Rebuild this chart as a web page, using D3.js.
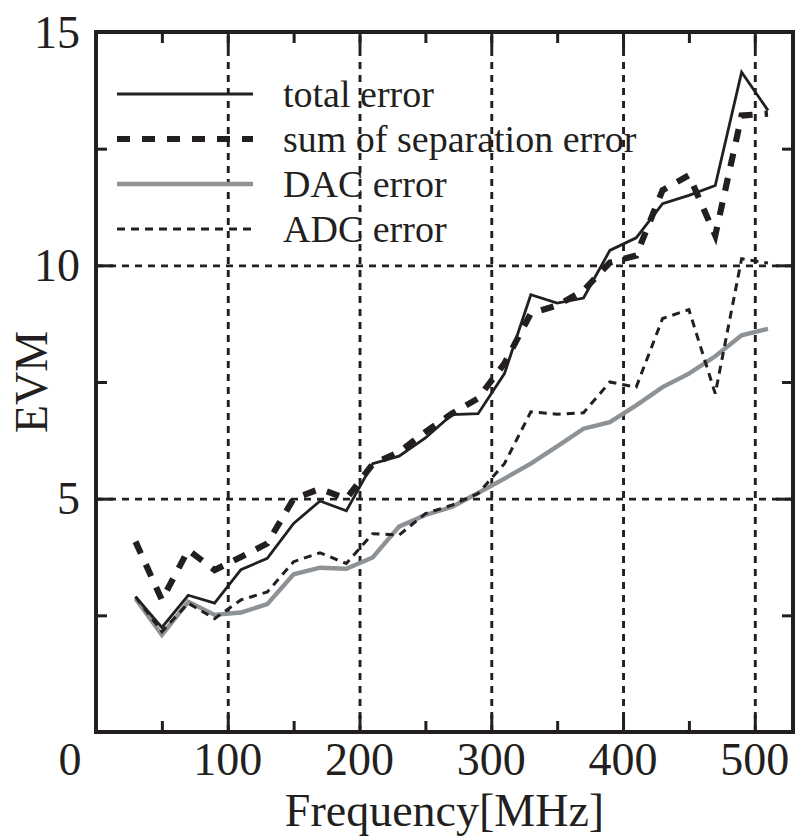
<!DOCTYPE html>
<html>
<head>
<meta charset="utf-8">
<script src="https://d3js.org/d3.v7.min.js"></script>
<style>
body { margin: 0; background: #fff; }
text { font-family: "Liberation Serif", "Times New Roman", serif; fill: #231f20; }
</style>
</head>
<body>
<svg id="chart" width="795" height="838"></svg>

<script>
// frequency points [MHz]
var freq = [30, 50, 70, 90, 110, 130, 150, 170, 190, 210, 230, 250, 270, 290, 310, 330, 350, 370, 390, 410, 430, 450, 470, 490, 510];

var totalError = [2.90, 2.24, 2.93, 2.76, 3.48, 3.72, 4.47, 4.95, 4.74, 5.75, 5.91, 6.30, 6.80, 6.82, 7.68, 9.37, 9.19, 9.30, 10.32, 10.59, 11.32, 11.50, 11.71, 14.14, 13.32];
var sumError   = [4.08, 2.83, 3.90, 3.47, 3.75, 4.04, 5.00, 5.21, 5.00, 5.74, 6.00, 6.43, 6.82, 7.15, 7.90, 8.97, 9.14, 9.46, 10.06, 10.21, 11.61, 11.93, 10.64, 13.21, 13.25];
var dacError   = [2.86, 2.08, 2.79, 2.51, 2.56, 2.74, 3.38, 3.52, 3.50, 3.74, 4.40, 4.65, 4.82, 5.12, 5.43, 5.75, 6.12, 6.50, 6.64, 7.00, 7.39, 7.68, 8.05, 8.50, 8.64];
var adcError   = [2.90, 2.15, 2.76, 2.43, 2.83, 3.00, 3.65, 3.84, 3.61, 4.25, 4.22, 4.68, 4.86, 5.11, 5.75, 6.86, 6.81, 6.84, 7.50, 7.39, 8.86, 9.05, 7.25, 10.14, 10.05];

var seriesNames = ["total error", "sum of separation error", "DAC error", "ADC error"];
var xTicks = [0, 100, 200, 300, 400, 500];
var xMinor = [50, 150, 250, 350, 450];
var yTicks = [5, 10, 15];
var yMinor = [2.5, 7.5, 12.5];

var ink = "#231f20";
var grey = "#8d9296";

var marginLeft = 96
var marginTop = 32
var width = 697
var height = 700

var svg = d3.select("#chart");
var g = svg.append("g").attr("transform", "translate(" + marginLeft + "," + marginTop + ")");

var x = d3.scaleLinear().domain([0, 529]).range([0, width]);
var y = d3.scaleLinear().domain([0, 15]).range([height, 0]);

// dashed grid
var gridX = g.append("g")
	.attr("transform", "translate(0," + height + ")")
	.call(d3.axisBottom(x).tickValues(xTicks.slice(1)).tickSize(-height).tickFormat(""));
var gridY = g.append("g")
	.call(d3.axisLeft(y).tickValues([5, 10]).tickSize(-width).tickFormat(""));
[gridX, gridY].forEach(function(a) {
	a.select(".domain").remove();
	a.selectAll("line").attr("stroke", ink).attr("stroke-width", 2.9).attr("stroke-dasharray", "7,6");
});

// series
var styles = [
	{ data: totalError, color: ink,  w: 2.8, dash: null },
	{ data: sumError,   color: ink,  w: 6.2, dash: "13,12" },
	{ data: dacError,   color: grey, w: 4.4, dash: null },
	{ data: adcError,   color: ink,  w: 3,   dash: "8,6" }
];
var line = d3.line().x(function(d, i) { return x(freq[i]); }).y(function(d) { return y(d); });

// draw grey DAC first so black lines sit on top of it
[2, 3, 1, 0].forEach(function(k) {
	var s = styles[k];
	g.append("path")
		.datum(s.data)
		.attr("fill", "none")
		.attr("stroke", s.color)
		.attr("stroke-width", s.w)
		.attr("stroke-dasharray", s.dash)
		.attr("stroke-linejoin", "miter")
		.attr("d", line);
});

// inward ticks on all four sides
function styleAxis(a) {
	a.select(".domain").remove();
	a.selectAll("line").attr("stroke", ink).attr("stroke-width", 3);
	a.selectAll("text").remove();
}
styleAxis(g.append("g").attr("transform", "translate(0," + height + ")").call(d3.axisBottom(x).tickValues(xTicks).tickSize(-17)));
styleAxis(g.append("g").attr("transform", "translate(0," + height + ")").call(d3.axisBottom(x).tickValues(xMinor).tickSize(-11)));
styleAxis(g.append("g").call(d3.axisTop(x).tickValues(xTicks).tickSize(-17)));
styleAxis(g.append("g").call(d3.axisTop(x).tickValues(xMinor).tickSize(-11)));
styleAxis(g.append("g").call(d3.axisLeft(y).tickValues(yTicks).tickSize(-17)));
styleAxis(g.append("g").call(d3.axisLeft(y).tickValues(yMinor).tickSize(-11)));
styleAxis(g.append("g").attr("transform", "translate(" + width + ",0)").call(d3.axisRight(y).tickValues(yTicks).tickSize(-17)));
styleAxis(g.append("g").attr("transform", "translate(" + width + ",0)").call(d3.axisRight(y).tickValues(yMinor).tickSize(-11)));

// frame
g.append("rect")
	.attr("x", 0).attr("y", 0)
	.attr("width", width).attr("height", height)
	.attr("fill", "none")
	.attr("stroke", ink)
	.attr("stroke-width", 4);

// tick labels
g.selectAll(".xlab")
	.data(xTicks)
	.enter().append("text")
	.attr("x", function(d) { return d === 0 ? x(d) - 26 : x(d); })
	.attr("y", height + 43)
	.attr("text-anchor", "middle")
	.style("font-size", "46px")
	.text(function(d) { return d; });

g.selectAll(".ylab")
	.data(yTicks)
	.enter().append("text")
	.attr("x", -16)
	.attr("y", function(d) { return y(d); })
	.attr("dy", "0.34em")
	.attr("text-anchor", "end")
	.style("font-size", "46px")
	.text(function(d) { return d; });

// axis titles
svg.append("text")
	.attr("x", marginLeft + width / 2)
	.attr("y", 826)
	.attr("text-anchor", "middle")
	.style("font-size", "46px")
	.text("Frequency[MHz]");

svg.append("text")
	.attr("transform", "translate(47," + (marginTop + height / 2) + ") rotate(-90)")
	.attr("text-anchor", "middle")
	.style("font-size", "46px")
	.text("EVM");

// legend
var legend = svg.append("g");
seriesNames.forEach(function(name, i) {
	var s = styles[i];
	var ly = 94 + i * 45;
	legend.append("line")
		.attr("x1", 117).attr("x2", 253)
		.attr("y1", ly).attr("y2", ly)
		.attr("stroke", s.color)
		.attr("stroke-width", s.w)
		.attr("stroke-dasharray", s.dash);
	legend.append("text")
		.attr("x", 283)
		.attr("y", ly + 13)
		.style("font-size", "38px")
		.text(name);
});
</script>
</body>
</html>
